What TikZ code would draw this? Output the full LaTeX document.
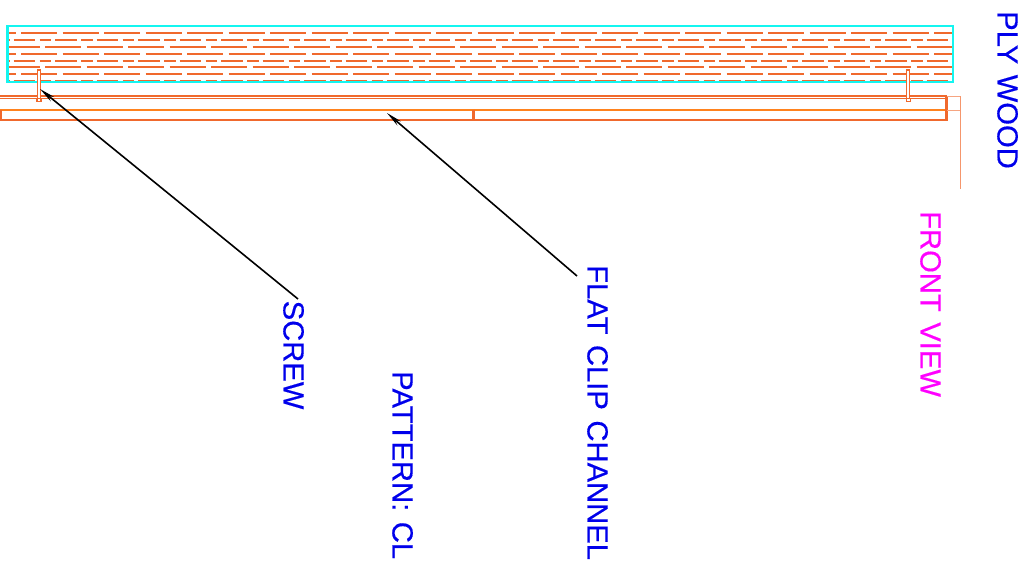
\documentclass[tikz,border=0pt]{standalone}
\usepackage{fontspec}
\setmainfont[WordSpace=1.3]{Liberation Sans}
\usetikzlibrary{arrows.meta}
\definecolor{plyorange}{RGB}{240,105,45}
\definecolor{clipblue}{RGB}{0,0,235}
\definecolor{plycyan}{RGB}{20,245,240}
\definecolor{viewpink}{RGB}{255,0,255}
\definecolor{clipline}{RGB}{255,130,30}
\tikzset{
  label/.style={anchor=base west, rotate=-90, inner sep=0pt, text=clipblue, font=\fontsize{29.2}{30}\selectfont\addfontfeature{FakeBold=0.35}},
  grain/.style={plyorange, line width=2pt},
  leader/.style={-{Stealth[length=16pt,width=5.5pt]}, black, line width=1.6pt}
}
\begin{document}
\begin{tikzpicture}[x=1pt, y=-1pt]
 \useasboundingbox (0,0) rectangle (1029,565);
 % wood grain
 \begin{scope}
 \clip (9,26) rectangle (952,82);
 \foreach \y in {33,53.7,74}
 {
     \draw[grain, dash pattern=on 36pt off 5.5pt, dash phase=20.5pt](0,\y)--(953,\y);
 }
 \foreach \y in {39.7,60.7,80.7}
 {
     \draw[grain, dash pattern=on 11.7pt off 4pt on 21.6pt off 4.2pt, dash phase=0.5pt](-1.5,\y)--(953,\y);
 }
 \foreach \y in {46.7,67.3}
 {
     \draw[grain, dash pattern=on 36pt off 5.5pt, dash phase=38pt](0,\y)--(953,\y);
 }
 \end{scope}
 \draw[plycyan, line width=2.3pt](7.5,26) rectangle (953,82);
 % channel
 \draw[plyorange, line width=1.5pt](0,96)--(947,96);
 \draw[plyorange, line width=1.5pt](0,98.3)--(947,98.3);
 \draw[clipline, line width=2pt](0,109.5)--(947,109.5);
 \draw[plyorange, line width=2.8pt](1,109.5)--(1,120)--(946.5,120)--(946.5,96);
 \draw[plyorange, line width=2.5pt](473.5,109.5)--(473.5,120);
 % screws
 \foreach \x in {37.5,906.8}
 {
     \draw[plyorange, line width=1.2pt, fill=white](\x,70) rectangle ++(3,30);
     \draw[plyorange, line width=1.2pt, fill=white](\x-.5,98.3) rectangle ++(4,3);
 }
 % dimension lines
 \draw[plyorange!60, line width=1pt](947,96)--(961,96);
 \draw[plyorange!60, line width=1pt](947,110)--(961,110);
 \draw[plyorange!70, line width=1pt](960,96)--(960,189);
 % labels
 \node[label] (plywood) at (997.5,11) {PLY WOOD};
 \node[label, text=viewpink] (frontview) at (920.5,211) {FRONT VIEW};
 \node[label] (screw) at (283.5,300.5) {SCREW};
 \node[label] (flatclip) at (587.5,265) {FLAT CLIP CHANNEL};
 \node[label] (pattern) at (392.5,371) {PATTERN: CL};
 \coordinate (screwtip) at (40,89);
 \coordinate (screwend) at (298,299);
 \coordinate (cliptip) at (387,113);
 \coordinate (clipend) at (577,276);
 \draw[leader](screwend)--(screwtip);
 \draw[leader](clipend)--(cliptip);
\end{tikzpicture}
\end{document}
